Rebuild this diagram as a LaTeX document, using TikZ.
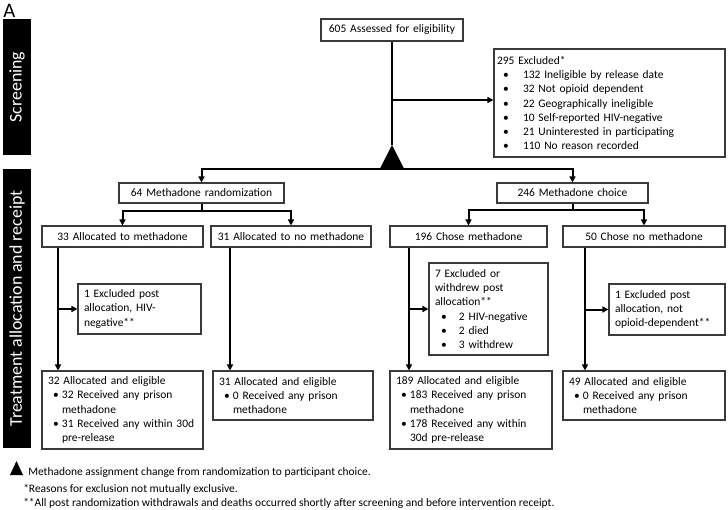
\documentclass[tikz,border=0pt]{standalone}
\usepackage{fontspec}
\setmainfont{Carlito}
\usetikzlibrary{arrows.meta,calc}
\definecolor{boxgray}{HTML}{3A3A3A}
\newcommand{\bx}[3]{\hspace*{#1pt}\makebox[#2pt][l]{•}#3}
\newcommand{\cx}[2]{\hspace*{#1pt}#2}
\newcommand{\boxnode}[7]{%
  \pgfmathsetmacro\bw{(#4-#2)*0.75}%
  \pgfmathsetmacro\bh{(#5-#3)*0.75}%
  \pgfmathsetmacro\tw{(#4-#2)*0.75-9}%
  \pgfmathsetmacro\bcx{(#2+#4)/2}%
  \pgfmathsetmacro\bcy{(#3+#5)/2}%
  \node[box,#6,minimum width=\bw pt,minimum height=\bh pt,text width=\tw pt] (#1) at (\bcx,\bcy) {#7};}
\begin{document}
\begin{tikzpicture}[x=0.75pt,y=-0.75pt,
  every node/.style={font=\fontsize{8.6}{10.65}\selectfont, inner sep=0pt},
  box/.style={draw=boxgray, line width=0.8pt, fill=white, inner xsep=4.5pt, inner ysep=0pt},
  cbox/.style={align=center},
  lbox/.style={align=left},
  sidebar/.style={fill=black, text=white, rotate=90, font=\fontsize{13.4}{16}\selectfont},
  conn/.style={line width=1.5pt, line join=miter},
  arr/.style={conn, -{Triangle[length=4.5pt,width=4.5pt]}},
  legend/.style={anchor=base west}]
\useasboundingbox (0,0) rectangle (728,510);

% section labels
\node[anchor=base west, font=\fontsize{15.5}{18}\selectfont] (lblA) at (3,17.5) {A};
\node[sidebar, minimum width=136*0.75pt, minimum height=28*0.75pt] (scr) at (17,87) {Screening};
\node[sidebar, minimum width=279*0.75pt, minimum height=28*0.75pt] (trt) at (17,308.5) {Treatment allocation and receipt};

% boxes
\boxnode{b605}{321}{19}{463}{41}{cbox}{605 Assessed for eligibility}
\boxnode{excl}{494}{49}{725}{157}{lbox}{\hspace*{-2.25pt}295 Excluded*\\
  \bx{2.25}{15}{132 Ineligible by release date}\\
  \bx{2.25}{15}{32 Not opioid dependent}\\
  \bx{2.25}{15}{22 Geographically ineligible}\\
  \bx{2.25}{15}{10 Self-reported HIV-negative}\\
  \bx{2.25}{15}{21 Uninterested in participating}\\
  \bx{2.25}{15}{110 No reason recorded}}
\boxnode{r64}{119}{183}{284}{203}{cbox}{64 Methadone randomization}
\boxnode{c246}{497}{183}{648}{203}{cbox}{246 Methadone choice}
\boxnode{a33}{42}{226}{203}{247}{cbox}{33 Allocated to methadone}
\boxnode{a31}{211}{226}{371}{247}{cbox}{31 Allocated to no methadone}
\boxnode{c196}{390}{226}{547}{247}{cbox}{196 Chose methadone}
\boxnode{c50}{563}{226}{725}{247}{cbox}{50 Chose no methadone}
\boxnode{x1a}{78}{284}{201}{334}{lbox}{1 Excluded post\\allocation, HIV-\\negative**}
\boxnode{x7}{429}{263}{548}{355}{lbox}{7 Excluded or\\withdrew post\\allocation**\\
  \bx{4.5}{13.5}{2 HIV-negative}\\
  \bx{4.5}{13.5}{2 died}\\
  \bx{4.5}{13.5}{3 withdrew}}
\boxnode{x1b}{609}{284}{725}{335}{lbox}{1 Excluded post\\allocation, not\\opioid-dependent**}
\boxnode{e32}{42}{371}{203}{449}{lbox}{32 Allocated and eligible\\
  \bx{3.75}{6.75}{32 Received any prison}\\
  \cx{10.5}{methadone}\\
  \bx{3.75}{6.75}{31 Received any within 30d}\\
  \cx{10.5}{pre-release}}
\boxnode{e31}{213}{371}{373}{420}{lbox}{31 Allocated and eligible\\
  \bx{3.75}{6.75}{0 Received any prison}\\
  \cx{10.5}{methadone}}
\boxnode{e189}{390}{371}{552}{449}{lbox}{189 Allocated and eligible\\
  \bx{3.75}{6.75}{183 Received any prison}\\
  \cx{10.5}{methadone}\\
  \bx{3.75}{6.75}{178 Received any within}\\
  \cx{10.5}{30d pre-release}}
\boxnode{e49}{563}{371}{725}{420}{lbox}{49 Allocated and eligible\\
  \bx{3.75}{6.75}{0 Received any prison}\\
  \cx{10.5}{methadone}}

% screening connectors
\coordinate (apex) at (392,145);
\coordinate (base) at (392,169);
\coordinate (ex) at (392,100);
\draw[conn] (b605.south) -- (apex);
\draw[arr] (ex) -- (ex -| excl.west);
\draw[arr] (base) -| (r64.north);
\draw[arr] (base) -| (c246.north);
\fill (380,168.5) -- (404,168.5) -- (apex) -- cycle;

% allocation connectors
\coordinate (r64m) at ($(r64.south)+(0,7)$);
\coordinate (c246m) at ($(c246.south)+(0,6)$);
\draw[conn] (r64.south) -- (r64m);
\draw[arr] (r64m) -| (a33.north);
\draw[arr] (r64m) -| (a31.north);
\draw[conn] (c246.south) -- (c246m);
\draw[arr] (c246m) -| (c196.north);
\draw[arr] (c246m) -| (c50.north);

% receipt connectors
\coordinate (v1) at (58,0);
\coordinate (v2) at (230,0);
\coordinate (v3) at (409,0);
\coordinate (v4) at (585,0);
\draw[arr] (a33.south -| v1) -- (e32.north -| v1);
\draw[arr] (x1a.west -| v1) -- (x1a.west);
\draw[arr] (a31.south -| v2) -- (e31.north -| v2);
\draw[arr] (c196.south -| v3) -- (e189.north -| v3);
\draw[arr] (x7.west -| v3) -- (x7.west);
\draw[arr] (c50.south -| v4) -- (e49.north -| v4);
\draw[arr] (x1b.west -| v4) -- (x1b.west);

% legend
\fill (10,475) -- (23,475) -- (16.5,461) -- cycle;
\node[legend] (leg1) at (28,475) {Methadone assignment change from randomization to participant choice.};
\node[legend] (leg2) at (23,492) {*Reasons for exclusion not mutually exclusive.};
\node[legend] (leg3) at (23,506) {**All post randomization withdrawals and deaths occurred shortly after screening and before intervention receipt.};
\end{tikzpicture}
\end{document}
